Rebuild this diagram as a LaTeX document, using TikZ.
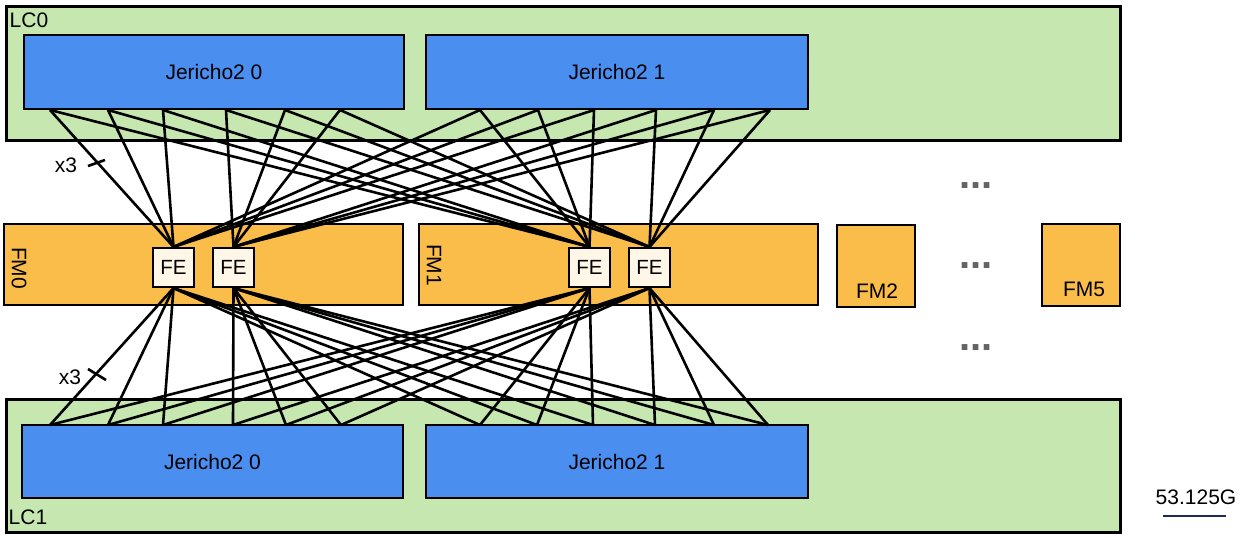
\documentclass[tikz,border=0pt]{standalone}
\usepackage{fontspec}
\setmainfont{Liberation Sans}
\pgfdeclarelayer{bg}
\pgfdeclarelayer{lines}
\pgfsetlayers{bg,lines,main}
\definecolor{lcgreen}{RGB}{198,232,176}
\definecolor{jblue}{RGB}{74,142,240}
\definecolor{fmorange}{RGB}{251,189,74}
\definecolor{fecream}{RGB}{254,246,230}
\definecolor{dotgray}{RGB}{100,100,100}
\definecolor{legnavy}{RGB}{30,42,90}
\begin{document}
\begin{tikzpicture}[x=1pt,y=-1pt,
  lcbox/.style={draw=black,line width=3pt,fill=lcgreen,inner sep=0pt},
  jbox/.style={draw=black,line width=2.4pt,fill=jblue,inner sep=0pt,font=\fontsize{21}{25}\selectfont},
  fmbox/.style={draw=black,line width=2.4pt,fill=fmorange,inner sep=0pt},
  febox/.style={draw=black,line width=2.2pt,fill=fecream,inner sep=0pt,minimum width=41pt,minimum height=39pt,font=\fontsize{20.5}{24}\selectfont},
  lbl/.style={inner sep=0pt,font=\fontsize{21}{25}\selectfont},
  link/.style={line width=2.6pt,black},
  dots/.style={inner sep=0pt,anchor=base,text=dotgray,font=\bfseries\fontsize{40}{44}\selectfont}]
\useasboundingbox (0,0) rectangle (1240,538);
\begin{pgfonlayer}{bg}
\node[lcbox,minimum width=1114pt,minimum height=134pt] (lc0) at (563,73) {};
\node[lcbox,minimum width=1114pt,minimum height=133pt] (lc1) at (563,465.5) {};
\node[jbox,minimum width=380pt,minimum height=74pt] (j00) at (214,72) {Jericho2 0};
\node[jbox,minimum width=382pt,minimum height=74pt] (j01) at (617,72) {Jericho2 1};
\node[jbox,minimum width=381pt,minimum height=73pt] (j10) at (212.5,461.5) {Jericho2 0};
\node[jbox,minimum width=382pt,minimum height=73pt] (j11) at (617,461.5) {Jericho2 1};
\node[fmbox,minimum width=399pt,minimum height=81pt] (fm0) at (203.5,264.5) {};
\node[fmbox,minimum width=399pt,minimum height=81pt] (fm1) at (618.5,264.5) {};
\node[fmbox,minimum width=78pt,minimum height=82pt] (fm2) at (876,266) {};
\node[fmbox,minimum width=78pt,minimum height=82pt] (fm5) at (1081,265) {};
\end{pgfonlayer}
% FE nodes
\node[febox] (fa1) at (173.5,267.5) {FE};
\node[febox] (fa2) at (233.5,267.5) {FE};
\node[febox] (fb1) at (589.5,267.5) {FE};
\node[febox] (fb2) at (649.5,267.5) {FE};
% ports
\foreach \i/\x in {1/50,2/108,3/163,4/226,5/285,6/340}{\coordinate (tA\i) at (\x,110);}
\foreach \i/\x in {1/480,2/538,3/594,4/656,5/714,6/770}{\coordinate (tB\i) at (\x,110);}
\foreach \i/\x in {1/50,2/108,3/163,4/233,5/286,6/341}{\coordinate (bA\i) at (\x,425);}
\foreach \i/\x in {1/480,2/537,3/593,4/655,5/714,6/768}{\coordinate (bB\i) at (\x,425);}
\begin{pgfonlayer}{lines}
\foreach \i in {1,2,3}{
  \draw[link] (tA\i) -- (fa1.north); \draw[link] (tA\i) -- (fb1.north);
  \draw[link] (tB\i) -- (fa1.north); \draw[link] (tB\i) -- (fb1.north);
  \draw[link] (bA\i) -- (fa1.south); \draw[link] (bA\i) -- (fb1.south);
  \draw[link] (bB\i) -- (fa1.south); \draw[link] (bB\i) -- (fb1.south);
}
\foreach \i in {4,5,6}{
  \draw[link] (tA\i) -- (fa2.north); \draw[link] (tA\i) -- (fb2.north);
  \draw[link] (tB\i) -- (fa2.north); \draw[link] (tB\i) -- (fb2.north);
  \draw[link] (bA\i) -- (fa2.south); \draw[link] (bA\i) -- (fb2.south);
  \draw[link] (bB\i) -- (fa2.south); \draw[link] (bB\i) -- (fb2.south);
}
\end{pgfonlayer}
% labels
\node[lbl] (lc0t) at (29,20) {LC0};
\node[lbl] (lc1t) at (28,517) {LC1};
\node[lbl,rotate=-90] (fm0t) at (19,268) {FM0};
\node[lbl,rotate=-90] (fm1t) at (434,265) {FM1};
\node[lbl] (fm2t) at (877,291) {FM2};
\node[lbl] (fm5t) at (1084,289) {FM5};
\node[lbl] (x3a) at (66,165) {x3};
\node[lbl] (x3b) at (70,377) {x3};
\coordinate (tk1a) at (88,166); \coordinate (tk1b) at (105,160);
\coordinate (tk2a) at (88,369); \coordinate (tk2b) at (106,380);
\draw[link] (tk1a) -- (tk1b);
\draw[link] (tk2a) -- (tk2b);
\node[dots] (d1) at (976,188) {...};
\node[dots] (d2) at (976,268) {...};
\node[dots] (d3) at (976,350) {...};
\node[lbl] (leg) at (1196,497) {53.125G};
\coordinate (lega) at (1163,516); \coordinate (legb) at (1226,516);
\draw[line width=2.4pt,legnavy] (lega) -- (legb);
\end{tikzpicture}
\end{document}
